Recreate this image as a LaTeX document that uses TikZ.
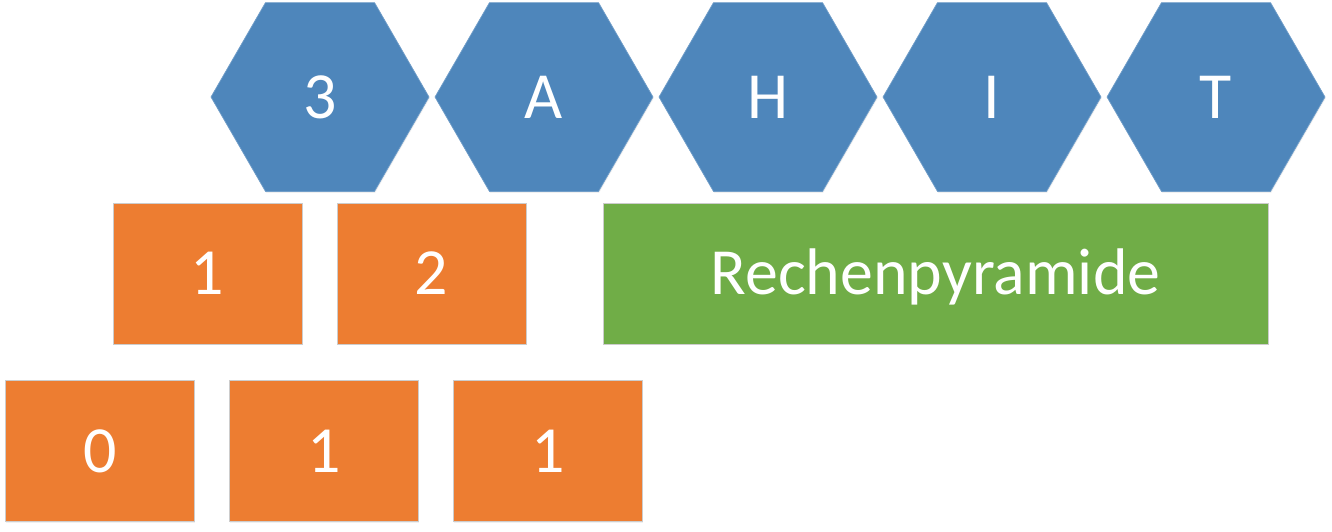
\documentclass[tikz,border=0pt]{standalone}
\usepackage{fontspec}
\setmainfont{Carlito}
\usetikzlibrary{shapes.geometric,shadows}
\definecolor{hexblue}{HTML}{4E86BB}
\definecolor{boxorange}{HTML}{ED7D31}
\definecolor{boxgreen}{HTML}{70AD47}
\tikzset{
	tile/.style={draw=gray!40, line width=0.4pt, text=white, inner sep=0pt,
		font=\fontsize{37.5}{45}\selectfont, text height=24pt, text depth=0pt,
		drop shadow={opacity=0.12, shadow xshift=0.4pt, shadow yshift=-0.8pt}},
	hexa/.style={tile, regular polygon, regular polygon sides=6, fill=hexblue,
		draw=hexblue!80!white, minimum size=4.36cm},
	digit/.style={tile, rectangle, fill=boxorange, minimum width=3.78cm, minimum height=2.82cm},
	word/.style={tile, rectangle, fill=boxgreen, minimum width=13.3cm, minimum height=2.82cm}
}
\begin{document}
\begin{tikzpicture}
			\useasboundingbox (0,0) rectangle (26.64,-10.62);
			% top row
			\foreach \ch [count=\i] in {3, A, H, I, T} {
				\node[hexa] (hex\i) at ({6.4 + (\i-1)*4.48}, -1.94) {\ch};
			}
			% middle row
			\node[digit] (mid1) at (4.15, -5.47) {1};
			\node[digit] (mid2) at (8.63, -5.47) {2};
			\node[word] (name) at (18.71, -5.47) {Rechenpyramide};
			% bottom row
			\foreach \d [count=\i] in {0, 1, 1} {
				\node[digit] (low\i) at ({2.0 + (\i-1)*4.48}, -9.02) {\d};
			}
		\end{tikzpicture}
\end{document}
